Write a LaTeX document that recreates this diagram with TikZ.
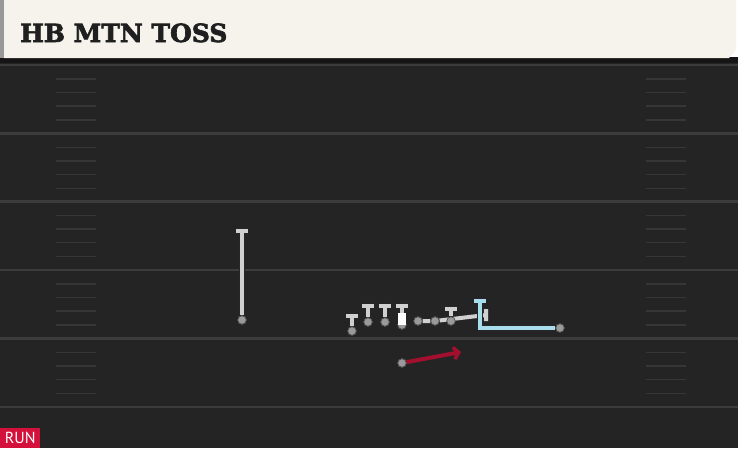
\documentclass[tikz,border=0pt]{standalone}
\usepackage{fontspec}
\setmainfont{DejaVu Serif}
\setsansfont{PT Sans}
\newfontfamily\titlefont{DejaVu Serif}[FakeBold=2.5]
\usetikzlibrary{arrows.meta}

\definecolor{paper}{HTML}{F5F3EC}
\definecolor{field}{HTML}{242424}
\definecolor{band}{HTML}{151515}
\definecolor{yard}{HTML}{3C3C3C}
\definecolor{routegray}{HTML}{D0D0D0}
\definecolor{dotgray}{HTML}{9A9A9A}
\definecolor{motion}{HTML}{A8DDEE}
\definecolor{runred}{HTML}{A3102F}
\definecolor{tagred}{HTML}{D3113B}

\begin{document}
\begin{tikzpicture}[x=1pt,y=-1pt,
     % define styles
     player/.style={
         circle, fill=dotgray, draw=black!70,
         line width=0.7pt, inner sep=0pt, minimum size=8.5pt
     },
     route/.style={
         draw=routegray, line width=4pt,
         preaction={draw=black!85, line width=5.8pt}
     },
     motionroute/.style={
         route, draw=motion
     },
     runroute/.style={
         draw=runred, line width=4pt,
         -{Straight Barb[length=5pt,width=12pt,line width=3.5pt]}
     },
     yardline/.style={draw=yard, line width=2.4pt},
     hash/.style={draw=yard!90!black, line width=1.8pt}
]
\useasboundingbox (0,0) rectangle (738,448);

% field and header
\fill[field] (0,60) rectangle (738,448);
\fill[band] (0,57) rectangle (738,63);
\fill[black!40] (0,0) rectangle (4,58);
\fill[paper] (4,0) -- (736,0) -- (736,50) -- (729,58) -- (4,58) -- cycle;
\node[anchor=base west, inner sep=0pt, text=black!88]
     (title) at (20,42) {\titlefont\fontsize{25}{25}\selectfont\bfseries HB MTN TOSS};

% yard lines and hash marks
\foreach \y in {65,133.5,201.5,270,338.5,407}
     \draw[yardline] (0,\y) -- (738,\y);
\foreach \y in {65,133.5,201.5,270,338.5}
     \foreach \d in {14,27.5,41,55}{
          \draw[hash] (56,\y+\d) -- (96,\y+\d);
          \draw[hash] (646,\y+\d) -- (686,\y+\d);
     }

% players
\node[player] (lb) at (242,320) {};
\node[player] (lt) at (352,331) {};
\node[player] (lg) at (368,322) {};
\node[player] (ce) at (385,322) {};
\node[fill=white, inner sep=0pt, minimum width=8pt, minimum height=12pt] (qbbox) at (402,319) {};
\node[player] (qb) at (402,325) {};
\node[player] (rg) at (418,321) {};
\node[player] (rt) at (435,321) {};
\node[player] (te) at (451,321) {};
\node[player] (wr) at (560,328) {};
\node[player] (hb) at (402,363) {};

% route ends
\coordinate (lbend) at (242,231);
\coordinate (ltend) at (352,316);
\coordinate (lgend) at (368,306);
\coordinate (ceend) at (385,306);
\coordinate (qbend) at (402,306);
\coordinate (teend) at (451,309);
\coordinate (rgend) at (486,315);
\coordinate (wrturn) at (480,328);
\coordinate (wrend) at (480,301);
\coordinate (hbend) at (461,352);

% blocks
\foreach \p in {lb,lt,lg,ce,te}
     \draw[route] (\p) -- (\p end) ([xshift=-6pt]\p end) -- ([xshift=6pt]\p end);
\draw[route] (qbbox) -- (qbend) ([xshift=-6pt]qbend) -- ([xshift=6pt]qbend);
\draw[route] (rg) -- (rt) -- (rgend) ([yshift=-6pt]rgend) -- ([yshift=6pt]rgend);

% motion and run
\draw[motionroute] (wr) -- (wrturn) -- (wrend) ([xshift=-6pt]wrend) -- ([xshift=6pt]wrend);
\draw[runroute] (hb) -- (hbend);

% redraw dots on top
\foreach \p in {lb,lt,lg,ce,qb,rg,rt,te,wr,hb}
     \node[player] at (\p) {};
\node[fill=white, inner sep=0pt, minimum width=8pt, minimum height=12pt] at (qbbox) {};

% play type tag
\node[fill=tagred, text=white, anchor=south west, inner sep=0pt,
      minimum width=40pt, minimum height=20pt, font=\sffamily\fontsize{16}{16}\selectfont]
     (tag) at (0,448) {RUN};
\end{tikzpicture}
\end{document}
